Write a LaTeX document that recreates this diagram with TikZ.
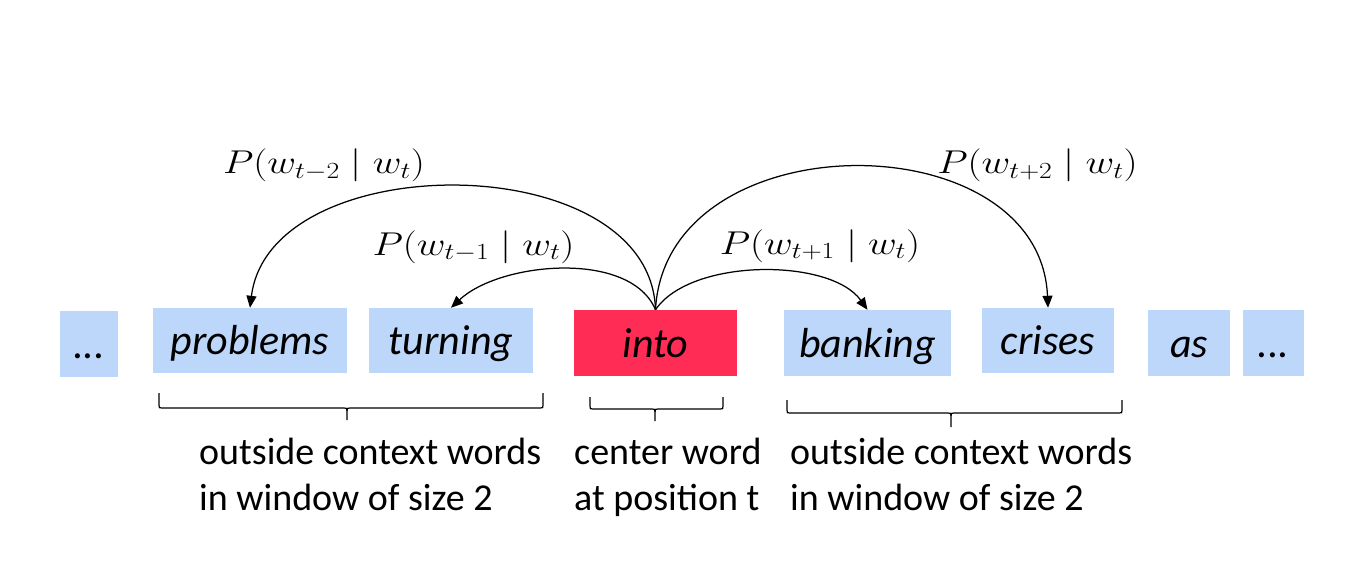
\RequirePackage{fix-cm}
\documentclass[tikz,border=0pt]{standalone}
\usepackage{graphicx}
\usepackage{fontspec}
\setmainfont{Carlito}
\usetikzlibrary{arrows.meta,calc}
\definecolor{wordblue}{RGB}{189,215,250}
\definecolor{centerred}{RGB}{255,45,85}
\newcommand{\probtext}[1]{\scalebox{1.2}[1]{$#1$}}
% flat brace: #1 left x, #2 right x, #3 top y, #4 bar y, #5 tip x, #6 tip y
\newcommand{\flatbrace}[6]{%
  \draw[bracestyle] (#1,#3) -- (#1,#4-3) .. controls (#1,#4) .. (#1+3,#4)
    -- (#5-3,#4) .. controls (#5,#4) .. (#5,#4+3) -- (#5,#6);
  \draw[bracestyle] (#5,#4+3) .. controls (#5,#4) .. (#5+3,#4)
    -- (#2-3,#4) .. controls (#2,#4) .. (#2,#4-3) -- (#2,#3);}
\begin{document}
\begin{tikzpicture}[x=1pt,y=-1pt,
  wordbox/.style={fill=wordblue, inner sep=0pt, font=\fontsize{42}{50}\selectfont\itshape, text height=34pt, text depth=6pt},
  centerbox/.style={wordbox, fill=centerred},
  arc/.style={-{Triangle[length=12pt,width=10pt]}, line width=1.25pt},
  prob/.style={font=\fontsize{33}{40}\selectfont, anchor=base, inner sep=0pt},
  caption/.style={font=\fontsize{38}{46}\selectfont, align=left, anchor=base west, inner sep=0pt},
  bracestyle/.style={line width=1.2pt, line join=round}
]
\useasboundingbox (0,0) rectangle (1363,567);
% word boxes
\node[wordbox, minimum width=58pt, minimum height=66pt] (dotsL) at (89,344) {...};
\node[wordbox, minimum width=194pt, minimum height=65pt] (problems) at (250,340.5) {problems};
\node[wordbox, minimum width=164pt, minimum height=65pt] (turning) at (451,340.5) {turning};
\node[centerbox, minimum width=163pt, minimum height=66pt] (into) at (655.5,343) {into};
\node[wordbox, minimum width=167pt, minimum height=66pt] (banking) at (867.5,343) {banking};
\node[wordbox, minimum width=132pt, minimum height=65pt] (crises) at (1048,340.5) {crises};
\node[wordbox, minimum width=82pt, minimum height=66pt] (as) at (1189,343) {as};
\node[wordbox, minimum width=61pt, minimum height=66pt] (dotsR) at (1273.5,343) {...};
% arcs
\draw[arc] (into.north) .. controls +(-5,-164) and +(20,-162) .. (problems.north);
\draw[arc] (into.north) .. controls +(-25,-60) and +(49,-46) .. (turning.north);
\draw[arc] (into.north) .. controls +(35,-52) and +(-37,-52) .. (banking.north);
\draw[arc] (into.north) .. controls +(10,-190) and +(-8,-188) .. (crises.north);
% probability labels
\node[prob] (pm2) at (324,174) {\probtext{P(w_{t-2}\mid w_t)}};
\node[prob] (pm1) at (473.5,255) {\probtext{P(w_{t-1}\mid w_t)}};
\node[prob] (pp1) at (820,254) {\probtext{P(w_{t+1}\mid w_t)}};
\node[prob] (pp2) at (1037.5,174) {\probtext{P(w_{t+2}\mid w_t)}};
% braces
\flatbrace{159}{543}{393}{408}{347}{420}
\flatbrace{590}{723}{397}{409}{655}{421}
\flatbrace{787}{1122}{400}{413}{951}{427}
% captions
\node[caption] (capL) at (199,510) {outside context words\\in window of size 2};
\node[caption] (capC) at (574,510) {center word\\at position t};
\node[caption] (capR) at (790,510) {outside context words\\in window of size 2};
\end{tikzpicture}
\end{document}
